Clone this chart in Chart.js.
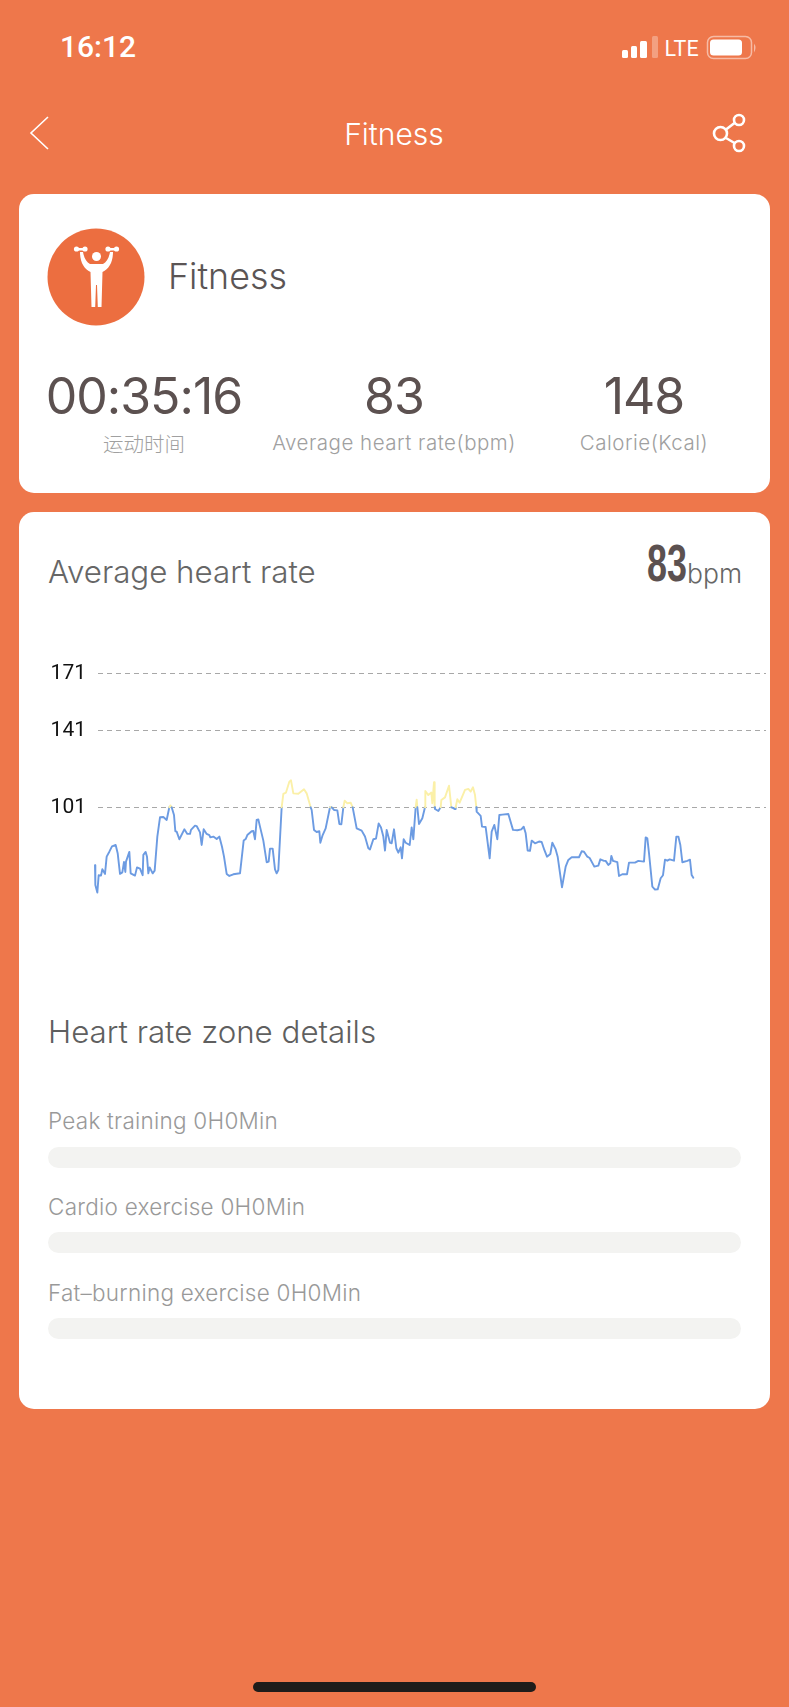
<!DOCTYPE html>
<html><head><meta charset="utf-8"><title>Fitness</title>
<script src="https://cdn.jsdelivr.net/npm/chart.js@4"></script>
<style>
html,body{margin:0;padding:0;width:789px;height:1707px;overflow:hidden;background:#EE774B;font-family:Inter,"Noto Sans CJK SC",sans-serif}
.t{position:absolute;white-space:nowrap;line-height:1}
.c{transform:translateX(-50%)}
.card{position:absolute;left:19px;width:751px;background:#fff;border-radius:15px}
.bar{position:absolute;left:48px;width:693px;height:21px;border-radius:11px;background:#F3F3F1}
.z{left:48px;font-size:22.5px;color:#999;font-weight:300;letter-spacing:.25px}
.lab{font-size:20.5px;color:#a0a0a0;font-weight:300;letter-spacing:.5px}
.num{font-size:50px;color:#5C5150;font-weight:400;letter-spacing:-1px}
canvas{position:absolute;left:0;top:640px}
svg{position:absolute;left:0;top:0}
</style></head><body>
<div class="card" style="top:194px;height:299px"></div>
<div class="card" style="top:512px;height:897px"></div>
<svg width="789" height="1707">
 <g fill="#fff">
  <rect x="622" y="50" width="6" height="8" rx="1.5"/><rect x="631" y="46" width="6" height="12" rx="1.5"/><rect x="640" y="41" width="7" height="17" rx="1.5"/>
  <rect x="652" y="36" width="6" height="22" rx="1.5" opacity=".3"/>
  <rect x="710" y="39.500" width="32" height="16" rx="3.500"/>
 </g>
 <rect x="707.500" y="36.500" width="44" height="22" rx="6" fill="none" stroke="#fff" stroke-opacity=".5" stroke-width="1.500"/>
 <path d="M754 43.500q3 4 0 9z" fill="#fff" fill-opacity=".5"/>
 <path d="M48 117L31 133L48 149" fill="none" stroke="#fff" stroke-width="1.600"/>
 <g fill="none" stroke="#fff" stroke-width="2.600">
  <circle cx="739" cy="120" r="5"/><circle cx="720.500" cy="133.500" r="6.500"/><circle cx="739" cy="146" r="5"/>
  <path d="M726 129.500L734.500 123M726 138L734.500 143"/>
 </g>
 <circle cx="96" cy="277" r="48.500" fill="#EC6E40"/>
 <g fill="#fff">
  <circle cx="96.500" cy="256.500" r="4.500"/>
  <path d="M80 252L83 252C84 258 86.500 262.500 90 264L103 264C106.500 262.500 109 258 110 252L113 252C113 262 109 269 102.500 272L101.500 307L97.800 307L97 285L96 285L95.200 307L91.500 307L90.500 272C84 269 80 262 80 252Z"/>
  <rect x="75" y="248" width="12" height="2.500" rx="1"/><circle cx="76.500" cy="249" r="2.600"/><circle cx="85" cy="249" r="2.600"/>
  <rect x="106" y="248" width="12" height="2.500" rx="1"/><circle cx="108" cy="249" r="2.600"/><circle cx="116.500" cy="249" r="2.600"/>
 </g>
 <rect x="253" y="1682" width="283" height="10" rx="5" fill="#1E1C1A"/>
</svg>
<div class="t" style="left:60px;top:32px;font:500 30px/1 Roboto;color:#fff">16:12</div>
<div class="t" style="left:664.500px;top:37.500px;font:400 21.500px/1 'Liberation Sans Narrow',Roboto;color:#fff;letter-spacing:.2px">LTE</div>
<div class="t c" style="left:394px;top:119px;font-size:30px;color:#fff;font-weight:300">Fitness</div>
<div class="t" style="left:168px;top:259px;font-size:35.800px;color:#5b5555;font-weight:300">Fitness</div>
<div class="t c num" style="left:144px;top:371px">00:35:16</div>
<div class="t c num" style="left:394px;top:371px">83</div>
<div class="t c num" style="left:644px;top:371px">148</div>
<div class="t c lab" style="left:144px;top:433px;font-family:'Noto Sans CJK SC';letter-spacing:0">运动时间</div>
<div class="t c lab" style="left:394px;top:433px">Average heart rate(bpm)</div>
<div class="t c lab" style="left:644px;top:433px">Calorie(Kcal)</div>
<div class="t" style="left:48px;top:557px;font-size:31.300px;color:#666;font-weight:300">Average heart rate</div>
<div class="t" style="left:647px;top:537px;font:700 52px/1 'Liberation Sans Narrow','Liberation Sans';color:#5C5150;transform:scaleX(.69);transform-origin:left">83</div>
<div class="t" style="left:687px;top:560px;font-size:26.500px;color:#666;font-weight:300">bpm</div>
<canvas id="hr" width="789" height="300" style="width:789px;height:300px"></canvas>
<div class="t" style="left:48px;top:1017px;font-size:31.300px;color:#5f5f5f;font-weight:300">Heart rate zone details</div>
<div class="t z" style="top:1110px">Peak training 0H0Min</div><div class="bar" style="top:1147px"></div>
<div class="t z" style="top:1196px">Cardio exercise 0H0Min</div><div class="bar" style="top:1232px"></div>
<div class="t z" style="top:1282px">Fat–burning exercise 0H0Min</div><div class="bar" style="top:1318px"></div>
<script>
const tickValues = [101, 141, 171];
const zoneThreshold = 101;
const elapsed = [0,1,7,11,18,22,30,35,43,51,62,68,75,82,87,91,93,103,107,120,126,135,143,145,152,156,160,164,173,179,187,195,205,215,223,226,230,237,241,245,253,268,277,285,288,300,305,315,320,326,335,343,346,355,365,373,381,387,395,403,415,425,435,446,452,457,470,475,480,485,490,495,505,515,521,525,533,540,545,550,560,565,573,583,588,595,610,627,635,647,650,657,665,673,676,683,692,705,710,717,727,733,739,745,749,757,767,773,785,800,810,820,825,835,843,851,858,865,870,875,885,890,897,904,910,917,921,926,932,944,950,955,962,965,967,972,982,990,991,1000,1009,1012,1017,1019,1020,1030,1037,1039,1050,1062,1069,1072,1080,1082,1087,1094,1110,1120,1127,1134,1140,1144,1145,1157,1161,1172,1184,1190,1198,1207,1213,1222,1240,1254,1267,1279,1286,1292,1298,1305,1310,1320,1332,1340,1348,1356,1366,1372,1382,1388,1401,1412,1420,1430,1452,1460,1467,1477,1484,1498,1510,1516,1527,1532,1540,1546,1549,1554,1567,1572,1582,1596,1602,1620,1630,1647,1652,1657,1662,1672,1680,1688,1697,1704,1710,1717,1724,1737,1744,1750,1756,1762,1777,1785,1790,1795];
const heartRate = [70.7,60.4,56.4,65.5,65.3,68.6,66.2,75.2,77.8,80.6,81.3,77,66.2,67,72.4,67.2,72.6,77.7,66.5,65.3,69.6,69,65.5,76.1,77.7,75.2,66.5,69.6,66.5,67.9,85.7,95.8,95.9,94.4,101,102,101,97,88.5,88.3,84.3,89.5,87.1,87.1,89.2,91.4,91.2,87.9,81.3,89.5,87.1,86.5,85.3,85.7,84.4,85.7,80.4,75.2,66.2,65.1,66,66.3,66.5,83.6,84.4,86.5,88.5,88.6,84.3,94.4,94.7,90.9,83.6,72.3,72.6,79.4,79.4,68.6,66.5,68.2,101,108,108.7,114.4,115.1,108.3,108.1,110.4,108.3,101,99.6,89.2,88.1,88.5,82.5,86.5,90,101,101,99.6,99.4,92.3,92.1,101,104.5,103.1,103.4,101,90,88.8,85.7,79.6,79,84.3,84.6,92.6,90.5,85.7,78.4,89.2,82.5,82.2,89.5,79.6,77.3,80.1,74.3,84.3,82.5,81.3,90.5,84.3,101,105,101,92.3,95.3,101,109.5,107.4,108.7,103.1,114.1,101,100.1,99.1,101,104.8,106.2,112.3,101,100.8,100.1,101,105.2,103.4,110.1,110.6,109.2,111.5,107.4,101,98.7,96.5,90.9,90.7,74.3,88.3,91.8,84.3,97,97.2,97.5,89.2,89,89.5,90.9,87.4,78.4,78.2,83.6,82.2,83.1,82.9,78.7,75.2,76.6,82.5,79,75.2,59.2,70,73.5,74.9,74.9,78,77.8,75.2,74.5,70,70.5,73.8,73,73,70.9,71.7,75.6,73,72.3,65.1,66,66,72.1,72.1,73,72.6,85.3,84.8,77,59.5,58,58.1,63.9,65.5,73.6,73.1,73.8,73.1,85.7,85.7,81.3,72.3,73,73.6,65.6,64.2];
const lineBlue = '#6C9BE2', lineYellow = '#FBF0A8';
new Chart(document.getElementById('hr'), {
  type: 'line',
  data: { datasets: [{
    data: elapsed.map((t, i) => ({ x: t, y: heartRate[i] })),
    borderWidth: 1.9, pointRadius: 0, tension: 0, clip: false,
    borderColor: lineBlue, borderJoinStyle: 'round', borderCapStyle: 'round',
    segment: { borderColor: c => (c.p0.parsed.y >= zoneThreshold && c.p1.parsed.y >= zoneThreshold) ? lineYellow : lineBlue }
  }]},
  options: {
    responsive: false, animation: false, devicePixelRatio: 1,
    layout: { padding: { top: 16.2, bottom: 16, left: 0, right: 23 } },
    plugins: { legend: { display: false }, tooltip: { enabled: false } },
    scales: {
      x: { type: 'linear', display: false, afterBuildTicks: s => { s.min = 9; s.max = 2013; } },
      y: { type: 'linear', min: 40, max: 180,
        afterFit: s => { s.width = 98; s.paddingTop = 0; s.paddingBottom = 0; },
        afterBuildTicks: s => { s.ticks = tickValues.map(v => ({ value: v })); },
        border: { display: false, dash: [5, 4] },
        grid: { color: '#A8A8A8', lineWidth: 1, drawTicks: false },
        ticks: { padding: 12, color: '#111', font: { family: 'Roboto', size: 21, weight: '400' }, callback: v => String(v) }
      }
    }
  }
});
</script>
</body></html>
